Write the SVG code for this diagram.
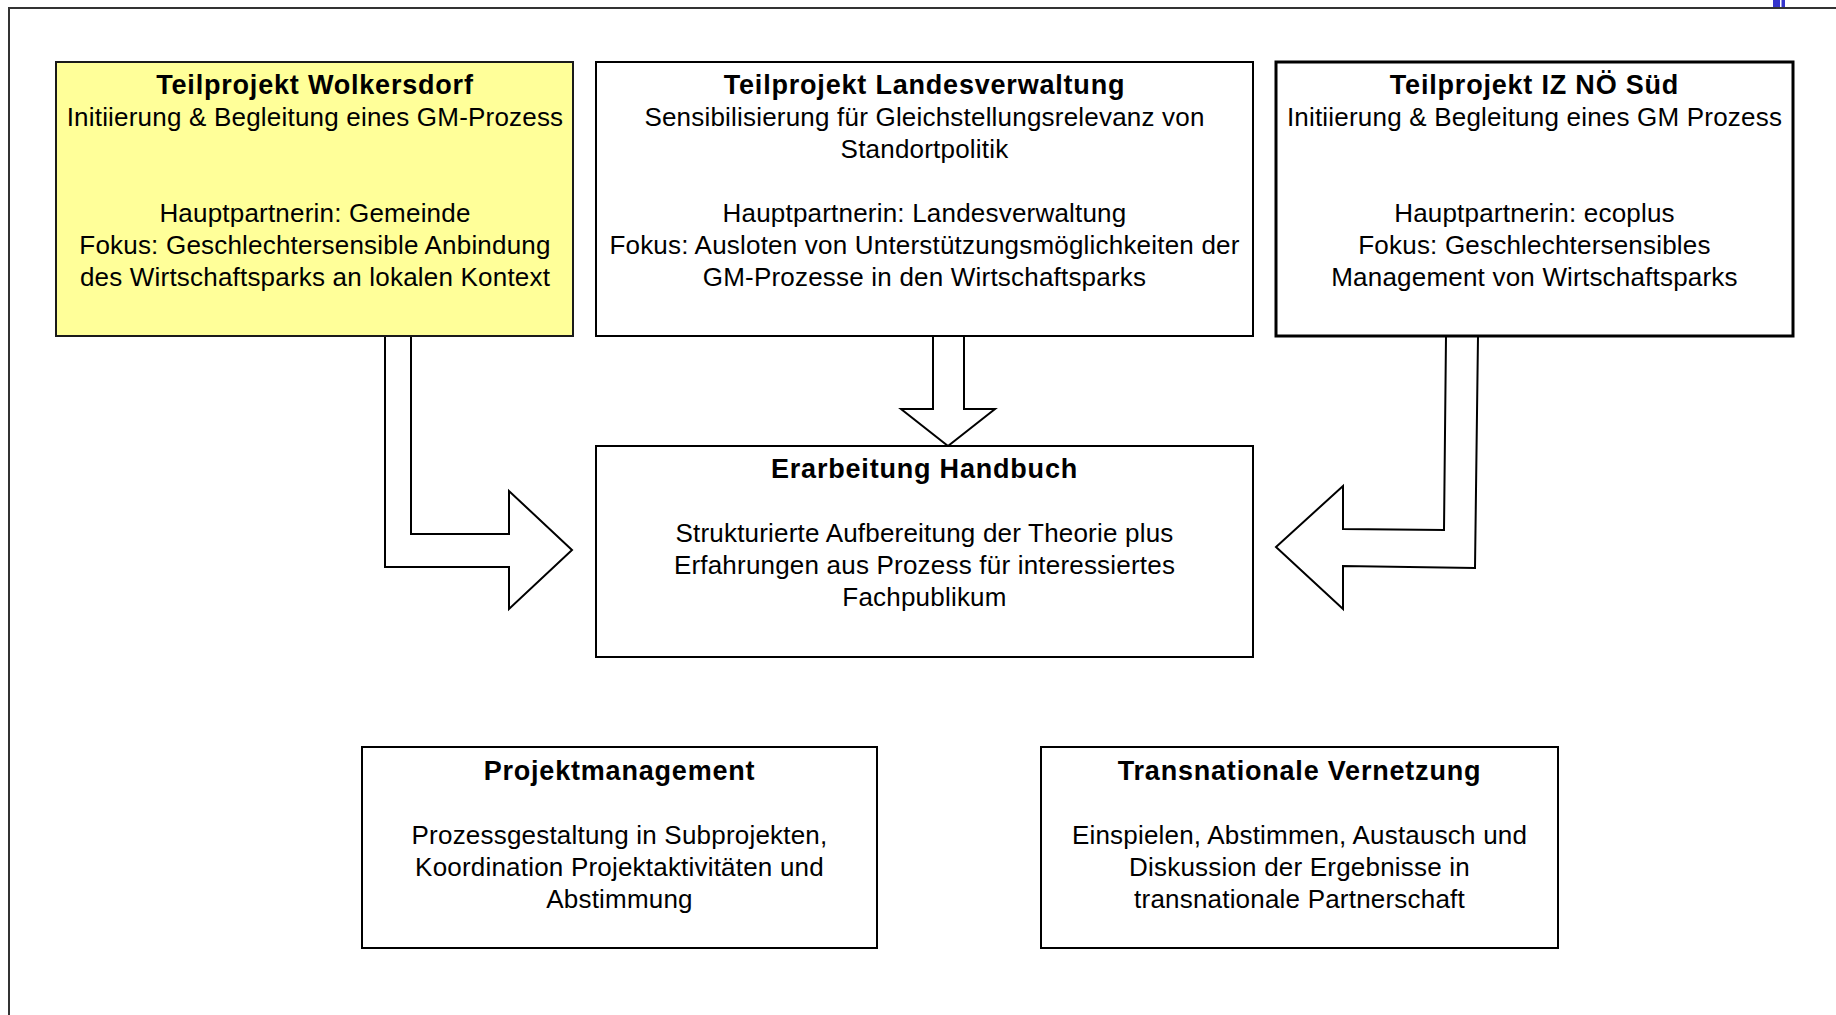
<svg xmlns="http://www.w3.org/2000/svg" width="1836" height="1015" viewBox="0 0 1836 1015">
<style>
  .box { fill: #ffffff; stroke: #000000; stroke-width: 2; }
  .yel { fill: #ffff99; stroke: #1a1a1a; stroke-width: 2; }
  .thick { stroke-width: 3; }
  .arrow { fill: #ffffff; stroke: #000000; stroke-width: 2; stroke-linejoin: miter; }
  text { font-family: "Liberation Sans", Arial, sans-serif; font-size: 26px; letter-spacing: 0.2px; fill: #000; text-anchor: middle; }
  .t { font-weight: bold; font-size: 27px; letter-spacing: 0.8px; }
</style>
<rect x="0" y="0" width="1836" height="1015" fill="#ffffff"/>
<path d="M9,1015 V8 H1836" fill="none" stroke="#333333" stroke-width="2"/>
<rect x="1773" y="0" width="12" height="7" fill="#3535cc"/>
<rect x="1780" y="0" width="1.5" height="7" fill="#ffffff"/>

<g id="connectors">
  <polygon class="arrow" points="385,336 385,567 509,567 509,609 572,550 509,491 509,534 411,534 411,336"/>
  <polygon class="arrow" points="933,336 933,409 901,409 948,446 995,409 964,409 964,336"/>
  <polygon class="arrow" points="1446,336 1444,530 1343,529 1343,486 1276,547 1343,609 1343,566 1475,568 1478,336"/>
</g>

<g id="wolkersdorf">
  <rect class="yel" x="56" y="62" width="517" height="274"/>
  <text x="315" y="94" class="t">Teilprojekt Wolkersdorf</text>
  <text x="315" y="126">Initiierung &amp; Begleitung eines GM-Prozess</text>
  <text x="315" y="222">Hauptpartnerin: Gemeinde</text>
  <text x="315" y="254">Fokus: Geschlechtersensible Anbindung</text>
  <text x="315" y="286">des Wirtschaftsparks an lokalen Kontext</text>
</g>

<g id="landesverwaltung">
  <rect class="box" x="596" y="62" width="657" height="274"/>
  <text x="924.5" y="94" class="t">Teilprojekt Landesverwaltung</text>
  <text x="924.5" y="126">Sensibilisierung für Gleichstellungsrelevanz von</text>
  <text x="924.5" y="158">Standortpolitik</text>
  <text x="924.5" y="222">Hauptpartnerin: Landesverwaltung</text>
  <text x="924.5" y="254">Fokus: Ausloten von Unterstützungsmöglichkeiten der</text>
  <text x="924.5" y="286">GM-Prozesse in den Wirtschaftsparks</text>
</g>

<g id="iznoesued">
  <rect class="box thick" x="1276" y="62" width="517" height="274"/>
  <text x="1534.5" y="94" class="t">Teilprojekt IZ NÖ Süd</text>
  <text x="1534.5" y="126">Initiierung &amp; Begleitung eines GM Prozess</text>
  <text x="1534.5" y="222">Hauptpartnerin: ecoplus</text>
  <text x="1534.5" y="254">Fokus: Geschlechtersensibles</text>
  <text x="1534.5" y="286">Management von Wirtschaftsparks</text>
</g>

<g id="handbuch">
  <rect class="box" x="596" y="446" width="657" height="211"/>
  <text x="924.5" y="478" class="t">Erarbeitung Handbuch</text>
  <text x="924.5" y="542">Strukturierte Aufbereitung der Theorie plus</text>
  <text x="924.5" y="574">Erfahrungen aus Prozess für interessiertes</text>
  <text x="924.5" y="606">Fachpublikum</text>
</g>

<g id="projektmanagement">
  <rect class="box" x="362" y="747" width="515" height="201"/>
  <text x="619.5" y="780" class="t">Projektmanagement</text>
  <text x="619.5" y="844">Prozessgestaltung in Subprojekten,</text>
  <text x="619.5" y="876">Koordination Projektaktivitäten und</text>
  <text x="619.5" y="908">Abstimmung</text>
</g>

<g id="vernetzung">
  <rect class="box" x="1041" y="747" width="517" height="201"/>
  <text x="1299.5" y="780" class="t">Transnationale Vernetzung</text>
  <text x="1299.5" y="844">Einspielen, Abstimmen, Austausch und</text>
  <text x="1299.5" y="876">Diskussion der Ergebnisse in</text>
  <text x="1299.5" y="908">transnationale Partnerschaft</text>
</g>
</svg>
